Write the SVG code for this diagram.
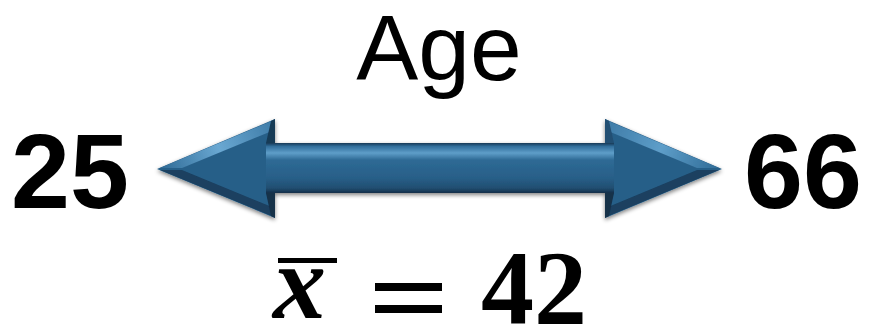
<svg xmlns="http://www.w3.org/2000/svg" width="869" height="332" viewBox="0 0 869 332">
  <style>
    .num { font-family: "Liberation Sans", Arial, sans-serif; font-weight: bold; font-size: 106px; fill: #000; }
    .lbl { font-family: "Liberation Sans", Arial, sans-serif; font-size: 93px; fill: #000; }
    .math { font-family: "Liberation Serif", "Times New Roman", serif; font-weight: bold; font-size: 106px; fill: #000; }
  </style>
  <defs>
    <linearGradient id="shaft" gradientUnits="userSpaceOnUse" x1="0" y1="143" x2="0" y2="193">
      <stop offset="0" stop-color="#173a57"/>
      <stop offset="0.07" stop-color="#336f9c"/>
      <stop offset="0.2" stop-color="#5e9ec9"/>
      <stop offset="0.34" stop-color="#2e6a95"/>
      <stop offset="0.7" stop-color="#285f88"/>
      <stop offset="0.9" stop-color="#214e71"/>
      <stop offset="1" stop-color="#13304a"/>
    </linearGradient>
    <linearGradient id="hiL" gradientUnits="userSpaceOnUse" x1="160" y1="168" x2="274" y2="120">
      <stop offset="0" stop-color="#2f6b96"/>
      <stop offset="0.5" stop-color="#6aa8d2"/>
      <stop offset="1" stop-color="#3d7aa6"/>
    </linearGradient>
    <linearGradient id="hiR" gradientUnits="userSpaceOnUse" x1="606" y1="120" x2="720" y2="168">
      <stop offset="0" stop-color="#3d7aa6"/>
      <stop offset="0.5" stop-color="#5e9ec9"/>
      <stop offset="1" stop-color="#2f6b96"/>
    </linearGradient>
    <filter id="sh" x="-10%" y="-20%" width="120%" height="140%">
      <feGaussianBlur in="SourceAlpha" stdDeviation="2"/>
      <feOffset dx="0" dy="2" result="b"/>
      <feComponentTransfer><feFuncA type="linear" slope="0.5"/></feComponentTransfer>
      <feMerge><feMergeNode/><feMergeNode in="SourceGraphic"/></feMerge>
    </filter>
  </defs>

  <g id="connectors">
    <g id="age-arrow" filter="url(#sh)">
      <polygon points="157,169 275,119 275,143 605,143 605,119 722,169 605,218 605,193 275,193 275,218" fill="#285f88"/>
      <rect x="266" y="143" width="348" height="50" fill="url(#shaft)"/>
      <polygon points="160,168 274,120 272,131 182,168" fill="url(#hiL)"/>
      <polygon points="160,170 274,217 272,207 182,170" fill="#1a4060"/>
      <polygon points="271,121 275,119 275,143 266,143" fill="#173a57"/>
      <polygon points="266,193 275,193 275,218 271,216" fill="#13304a"/>
      <polygon points="606,120 719,168 697,168 608,131" fill="url(#hiR)"/>
      <polygon points="606,217 719,170 697,170 608,207" fill="#1a4060"/>
      <polygon points="605,119 609,121 614,143 605,143" fill="#244f73"/>
      <polygon points="605,193 614,193 609,216 605,218" fill="#13304a"/>
    </g>
  </g>

  <g id="label-age">
    <text class="lbl" x="439" y="80" text-anchor="middle">Age</text>
  </g>
  <g id="node-min">
    <text class="num" x="11" y="208">25</text>
  </g>
  <g id="node-max">
    <text class="num" x="744" y="208">66</text>
  </g>
  <g id="node-mean">
    <rect x="278" y="258" width="59" height="5" fill="#000"/>
    <text class="math" x="273" y="318" font-style="italic" font-size="114">x</text>
    <rect x="375" y="283" width="67" height="8" fill="#000"/>
    <rect x="375" y="305" width="67" height="8" fill="#000"/>
    <text class="math" x="481" y="324">42</text>
  </g>
</svg>
